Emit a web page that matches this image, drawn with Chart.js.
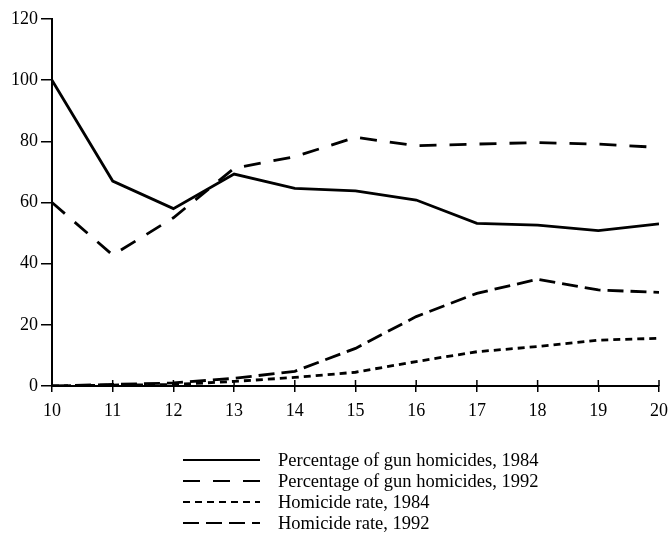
<!DOCTYPE html>
<html>
<head>
<meta charset="utf-8">
<script src="https://cdn.jsdelivr.net/npm/chart.js@4.4.1/dist/chart.umd.min.js"></script>
<style>
  html, body { margin: 0; padding: 0; background: #fff; }
  #wrap { width: 671px; height: 540px; }
</style>
</head>
<body>
<div id="wrap"><canvas id="chart" width="671" height="540"></canvas></div>
<script>
// ages 10..20
const ages = [10, 11, 12, 13, 14, 15, 16, 17, 18, 19, 20];
const gunPct1984 = [100, 67, 58, 69.3, 64.6, 63.8, 60.8, 53.2, 52.6, 50.8, 53];
const gunPct1992 = [60, 42.8, 55, 71.2, 75, 81.3, 78.6, 79.1, 79.6, 79.1, 78];
const rate1984 = [0, 0.3, 0.5, 1.5, 2.8, 4.5, 8, 11.2, 12.9, 15, 15.6];
const rate1992 = [0, 0.5, 1, 2.5, 4.8, 12.3, 22.7, 30.3, 34.9, 31.4, 30.6];
const yTicks = [0, 20, 40, 60, 80, 100, 120];
const labels = ['Percentage of gun homicides, 1984', 'Percentage of gun homicides, 1992',
                'Homicide rate, 1984', 'Homicide rate, 1992'];

const FONT = "'Liberation Serif', 'DejaVu Serif', serif";

function pts(vals) {
    return ages.map((a, i) => ({ x: a, y: vals[i] }));
}

function line(label, vals, dash) {
    return {
        label: label,
        data: pts(vals),
        borderColor: '#000',
        borderWidth: 2.8,
        borderDash: dash,
        pointRadius: 0,
        fill: false,
        tension: 0
    };
}

// small tick stubs above the x axis, and the legend under the plot
const extras = {
    id: 'extras',
    afterDraw(chart) {
        const ctx = chart.ctx;
        const xs = chart.scales.x;
        const bottom = chart.chartArea.bottom;
        ctx.save();
        ctx.strokeStyle = '#000';
        ctx.lineWidth = 1.5;
        ages.forEach(a => {
            const px = xs.getPixelForValue(a);
            ctx.beginPath();
            ctx.moveTo(px, bottom - 6);
            ctx.lineTo(px, bottom);
            ctx.stroke();
        });

        // legend
        ctx.font = '18.5px ' + FONT;
        ctx.fillStyle = '#000';
        ctx.textBaseline = 'middle';
        chart.data.datasets.forEach((ds, i) => {
            const y = 460 + i * 21;
            ctx.lineWidth = 2.2;
            ctx.setLineDash(ds.borderDash || []);
            ctx.beginPath();
            ctx.moveTo(183, y);
            ctx.lineTo(260, y);
            ctx.stroke();
            ctx.setLineDash([]);
            ctx.fillText(ds.label, 278, y + 1);
        });
        ctx.restore();
    }
};

new Chart(document.getElementById('chart').getContext('2d'), {
    type: 'line',
    data: {
        datasets: [
            line(labels[0], gunPct1984, []),
            line(labels[1], gunPct1992, [17, 13]),
            line(labels[2], rate1984, [7, 5]),
            line(labels[3], rate1992, [16, 7])
        ]
    },
    options: {
        responsive: false,
        animation: false,
        layout: { padding: { top: 19, right: 12, left: 0, bottom: 0 } },
        plugins: { legend: { display: false }, tooltip: { enabled: false } },
        scales: {
            x: {
                type: 'linear',
                min: 10,
                max: 20,
                afterFit: s => { s.height = 154; s.paddingRight = 0; s.paddingLeft = 0; },
                afterBuildTicks: s => { s.ticks = ages.map(v => ({ value: v })); },
                grid: { drawOnChartArea: false, drawTicks: true, tickLength: 6, color: '#000', lineWidth: 1.5 },
                border: { display: true, color: '#000', width: 2 },
                ticks: { color: '#000', font: { family: FONT, size: 18 }, padding: 8, maxRotation: 0 }
            },
            y: {
                min: 0,
                max: 120,
                afterFit: s => { s.width = 52; },
                afterBuildTicks: s => { s.ticks = yTicks.map(v => ({ value: v })); },
                grid: { drawOnChartArea: false, drawTicks: true, tickLength: 11, color: '#000', lineWidth: 1.5 },
                border: { display: true, color: '#000', width: 2 },
                ticks: { color: '#000', font: { family: FONT, size: 18 }, padding: 3 }
            }
        }
    },
    plugins: [extras]
});
</script>
</body>
</html>
